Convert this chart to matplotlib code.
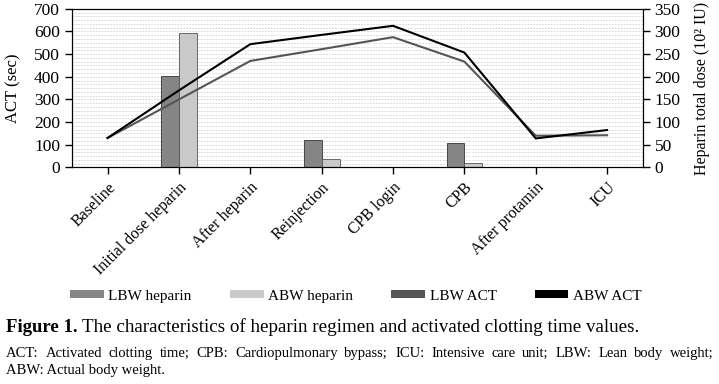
import matplotlib
matplotlib.use("Agg")
import matplotlib.pyplot as plt
import numpy as np
from matplotlib.patches import Patch

plt.rcParams['font.family'] = ['Liberation Serif', 'DejaVu Serif']

categories = ["Baseline", "Initial dose heparin", "After heparin", "Reinjection",
              "CPB login", "CPB", "After protamin", "ICU"]
lbw_heparin = [0, 202, 0, 61, 0, 53, 0, 0]
abw_heparin = [0, 296, 0, 19, 0, 9, 0, 0]
lbw_act = [130, 300, 470, 522, 575, 467, 140, 142]
abw_act = [130, 340, 544, 585, 625, 507, 128, 165]
legend_labels = ["LBW heparin", "ABW heparin", "LBW ACT", "ABW ACT"]

c_lbw_hep = "#858585"
c_abw_hep = "#c9c9c9"
c_lbw_act = "#555555"
c_abw_act = "#000000"

fig = plt.figure(figsize=(7.19, 3.84), dpi=100)
ax = fig.add_axes([0.1, 0.564, 0.794, 0.413])
ax2 = ax.twinx()

x = np.arange(len(categories))
w = 0.25
for yv in np.arange(0, 350, 50 / 6):
    ax2.axhline(yv, color="#d2d2d2", lw=0.6, ls=(0, (2, 1.5)), zorder=0)
ax2.bar(x - w / 2, lbw_heparin, width=w, color=c_lbw_hep, edgecolor="#333333", linewidth=0.6, zorder=2)
ax2.bar(x + w / 2, abw_heparin, width=w, color=c_abw_hep, edgecolor="#555555", linewidth=0.6, zorder=2)
ax2.set_ylim(0, 350)
ax2.set_yticks(np.arange(0, 351, 50))

ax.set_ylim(0, 700)
ax.set_xlim(-0.5, len(categories) - 0.5)
ax.set_yticks(np.arange(0, 701, 100))

ax.set_zorder(ax2.get_zorder() + 1)
ax.patch.set_visible(False)
ax2.patch.set_visible(True)
ax2.patch.set_facecolor("white")

ax.plot(x, lbw_act, color=c_lbw_act, lw=1.5)
ax.plot(x, abw_act, color=c_abw_act, lw=1.5)

ax.set_xticks(x)
ax.set_xticklabels(categories, rotation=45, ha="right", rotation_mode="anchor", fontsize=11.5)
ax.tick_params(axis="both", direction="out", length=5, width=1, labelsize=12.5)
ax.tick_params(axis="x", labelsize=11.5)
ax2.tick_params(axis="y", direction="out", length=5, width=1, labelsize=12.5)
ax.set_ylabel("ACT (sec)", fontsize=12, labelpad=9)
ax2.set_ylabel("Heparin total dose (10\u00b2 IU)", fontsize=11.5, labelpad=10)

handles = [Patch(facecolor=c_lbw_hep), Patch(facecolor=c_abw_hep),
           Patch(facecolor=c_lbw_act), Patch(facecolor=c_abw_act)]
fig.legend(handles, legend_labels, loc="center", bbox_to_anchor=(0.495, 0.229), ncol=4,
           frameon=False, fontsize=11, handlelength=2.2, handleheight=0.5,
           columnspacing=2.5, handletextpad=0.3)

fig.text(0.009, 0.147, "Figure 1.", fontsize=13.5, fontweight="bold", va="center")
fig.text(0.114, 0.147, "The characteristics of heparin regimen and activated clotting time values.",
         fontsize=13.7, va="center")

# justified first footnote line
line1 = ("ACT: Activated clotting time; CPB: Cardiopulmonary bypass; ICU: Intensive care unit; "
         "LBW: Lean body weight;").split(" ")
renderer = fig.canvas.get_renderer()
W = fig.get_figwidth() * fig.dpi
x0, x1 = 6.0, 714.0
texts = [fig.text(0, 0.079, wd, fontsize=10.5, va="center") for wd in line1]
widths = [t.get_window_extent(renderer).width for t in texts]
gap = (x1 - x0 - sum(widths)) / (len(texts) - 1)
pos = x0
for t, wd in zip(texts, widths):
    t.set_x(pos / W)
    pos += wd + gap
fig.text(x0 / W, 0.036, "ABW: Actual body weight.", fontsize=10.5, va="center")

fig.savefig("out.png", dpi=100)
